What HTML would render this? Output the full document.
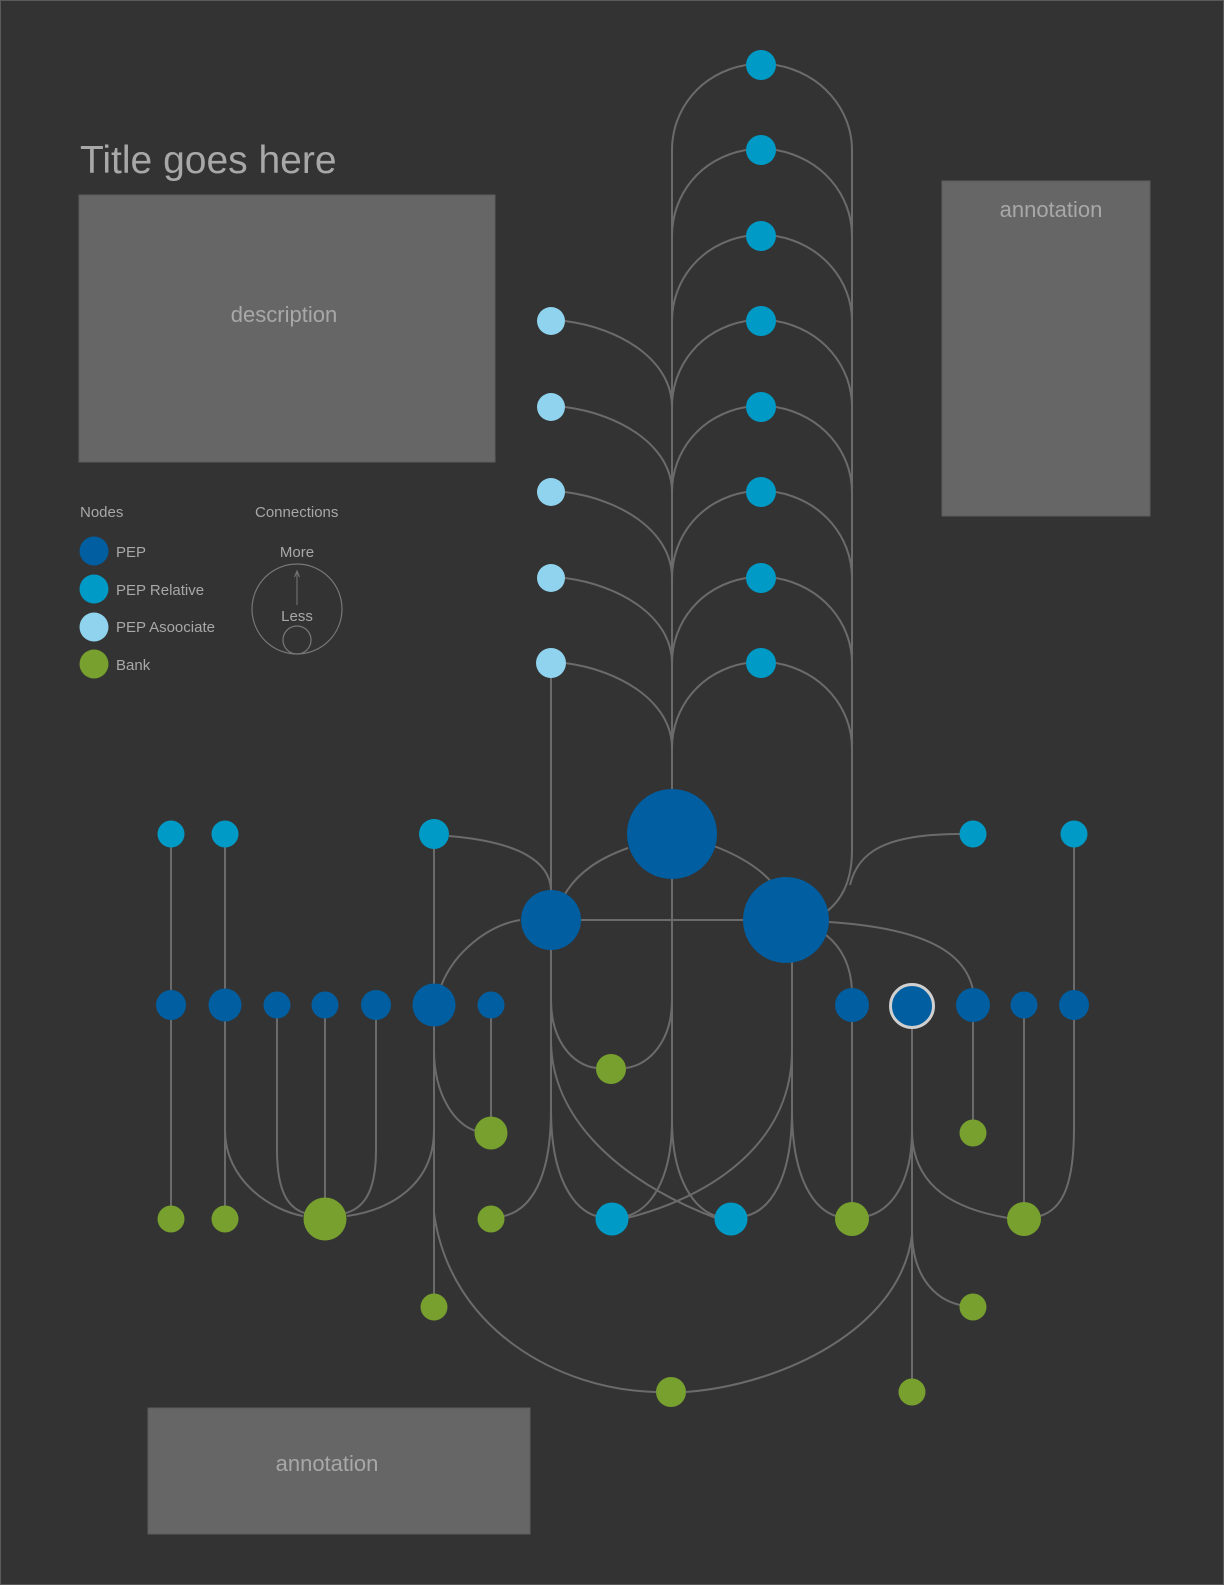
<!DOCTYPE html>
<html><head><meta charset="utf-8"><style>
html,body{margin:0;padding:0;background:#333;}
svg{display:block;}
text{font-family:"Liberation Sans","DejaVu Sans",sans-serif;fill:#a8a8a8;}
</style></head><body>
<svg width="1224" height="1585" viewBox="0 0 1224 1585" xmlns="http://www.w3.org/2000/svg">
<rect x="0.5" y="0.5" width="1223" height="1584" fill="#333" stroke="#5a5a5a" stroke-width="1"/>
<text x="80" y="173" font-size="39" style="font-weight:300">Title goes here</text>
<rect x="79" y="195" width="416" height="267" fill="#666" stroke="#5c5c5c"/>
<text x="284" y="322" font-size="22" text-anchor="middle">description</text>
<rect x="942" y="181" width="208" height="335" fill="#666" stroke="#5c5c5c"/>
<text x="1051" y="217" font-size="22" text-anchor="middle">annotation</text>
<rect x="148" y="1408" width="382" height="126" fill="#666" stroke="#5c5c5c"/>
<text x="327" y="1471" font-size="22" text-anchor="middle">annotation</text>

<!-- legend -->
<text x="80" y="517" font-size="15">Nodes</text>
<text x="255" y="517" font-size="15">Connections</text>
<circle cx="94" cy="551" r="14.5" fill="#005ea1"/>
<circle cx="94" cy="589" r="14.5" fill="#009ac6"/>
<circle cx="94" cy="627" r="14.5" fill="#8fd3ee"/>
<circle cx="94" cy="664" r="14.5" fill="#77a02e"/>
<text x="116" y="557" font-size="15">PEP</text>
<text x="116" y="595" font-size="15">PEP Relative</text>
<text x="116" y="632" font-size="15">PEP Asoociate</text>
<text x="116" y="670" font-size="15">Bank</text>
<text x="297" y="557" font-size="15" text-anchor="middle">More</text>
<circle cx="297" cy="609" r="45" fill="none" stroke="#777" stroke-width="1.2"/>
<line x1="297" y1="573" x2="297" y2="605" stroke="#777" stroke-width="1"/>
<path d="M294.5,577 L297,571 L299.5,577" fill="none" stroke="#777" stroke-width="1"/>
<text x="297" y="621" font-size="15" text-anchor="middle">Less</text>
<circle cx="297" cy="640" r="14" fill="none" stroke="#777" stroke-width="1.2"/>

<g fill="none" stroke="#6b6b6b" stroke-width="2">
<!-- trunks -->
<line x1="672" y1="148" x2="672" y2="1140"/>
<line x1="852" y1="148" x2="852" y2="852"/>
<path d="M852,850 C852,880 842,900 826,912"/>
<path d="M960,834 C885,834 858,852 850,885"/>
<!-- top arcs -->
<path d="M746,65 C700,73 672,110 672,150 M776,65 C822,73 852,110 852,150"/>
<path d="M746,150 C700,158 672,195 672,236 M776,150 C822,158 852,195 852,236"/>
<path d="M746,236 C700,244 672,281 672,321 M776,236 C822,244 852,281 852,321"/>
<path d="M746,321 C700,329 672,366 672,407 M776,321 C822,329 852,366 852,407"/>
<path d="M746,407 C700,415 672,452 672,492 M776,407 C822,415 852,452 852,492"/>
<path d="M746,492 C700,500 672,537 672,578 M776,492 C822,500 852,537 852,578"/>
<path d="M746,578 C700,586 672,623 672,663 M776,578 C822,586 852,623 852,663"/>
<path d="M746,663 C700,671 672,708 672,748 M776,663 C822,671 852,708 852,748"/>
<!-- associates -->
<path d="M565,321 C620,328 672,360 672,407"/>
<path d="M565,407 C620,414 672,446 672,492"/>
<path d="M565,492 C620,499 672,531 672,578"/>
<path d="M565,578 C620,585 672,617 672,663"/>
<path d="M565,663 C620,670 672,702 672,748"/>
<line x1="551" y1="663" x2="551" y2="1120"/>
<!-- center -->
<path d="M449,836 C520,842 550,862 551,890"/>
<path d="M628,848 C600,858 578,872 565,894"/>
<path d="M714,846 C740,856 760,868 773,884"/>
<line x1="560" y1="920" x2="760" y2="920"/>
<path d="M672,1000 C672,1040 650,1065 626,1068"/>
<path d="M672,1120 C672,1180 650,1210 627,1216"/>
<path d="M672,1120 C672,1180 695,1210 716,1216"/>
<path d="M551,1000 C551,1040 572,1065 596,1068"/>
<path d="M551,1110 C551,1180 530,1210 504,1216"/>
<path d="M551,1110 C551,1180 575,1210 596,1216"/>
<path d="M551,1040 C551,1130 640,1190 716,1218"/>
<line x1="792" y1="960" x2="792" y2="1120"/>
<path d="M792,1050 C792,1150 700,1200 627,1218"/>
<path d="M792,1110 C792,1180 770,1210 746,1216"/>
<path d="M792,1110 C792,1180 815,1210 836,1216"/>
<path d="M826,935 C845,950 851,970 852,990"/>
<path d="M829,922 C920,928 965,950 973,990"/>
<line x1="852" y1="1005" x2="852" y2="1219"/>
<line x1="912" y1="1006" x2="912" y2="1392"/>
<path d="M912,1130 C912,1185 890,1210 868,1216"/>
<path d="M912,1130 C912,1190 960,1210 1008,1218"/>
<path d="M912,1230 C912,1280 938,1300 960,1305"/>
<path d="M912,1235 C900,1330 780,1385 686,1392"/>
<line x1="973" y1="1005" x2="973" y2="1133"/>
<line x1="1024" y1="1005" x2="1024" y2="1219"/>
<line x1="1074" y1="834" x2="1074" y2="1130"/>
<path d="M1074,1128 C1074,1190 1060,1210 1040,1216"/>
<!-- left -->
<line x1="171" y1="834" x2="171" y2="1219"/>
<line x1="225" y1="834" x2="225" y2="1219"/>
<path d="M225,1130 C225,1180 270,1210 303,1216"/>
<path d="M277,1005 L277,1150 C277,1195 290,1210 308,1214"/>
<line x1="325" y1="1005" x2="325" y2="1219"/>
<path d="M376,1005 L376,1150 C376,1195 362,1210 342,1214"/>
<line x1="434" y1="834" x2="434" y2="1307"/>
<path d="M434,1130 C434,1185 390,1210 347,1216"/>
<path d="M434,1050 C434,1095 455,1125 476,1131"/>
<path d="M434,1213 C450,1330 560,1390 656,1392"/>
<path d="M441,986 C455,950 490,925 520,920"/>
<line x1="491" y1="1005" x2="491" y2="1133"/>
</g>

<!-- nodes -->
<g fill="#009ac6">
<circle cx="761" cy="65" r="15"/><circle cx="761" cy="150" r="15"/><circle cx="761" cy="236" r="15"/><circle cx="761" cy="321" r="15"/>
<circle cx="761" cy="407" r="15"/><circle cx="761" cy="492" r="15"/><circle cx="761" cy="578" r="15"/><circle cx="761" cy="663" r="15"/>
<circle cx="171" cy="834" r="13.5"/><circle cx="225" cy="834" r="13.5"/><circle cx="434" cy="834" r="15"/>
<circle cx="973" cy="834" r="13.5"/><circle cx="1074" cy="834" r="13.5"/>
<circle cx="612" cy="1219" r="16.5"/><circle cx="731" cy="1219" r="16.5"/>
</g>
<g fill="#8fd3ee">
<circle cx="551" cy="321" r="14"/><circle cx="551" cy="407" r="14"/><circle cx="551" cy="492" r="14"/><circle cx="551" cy="578" r="14"/><circle cx="551" cy="663" r="15"/>
</g>
<g fill="#005ea1">
<circle cx="672" cy="834" r="45"/><circle cx="551" cy="920" r="30"/><circle cx="786" cy="920" r="43"/>
<circle cx="171" cy="1005" r="15"/><circle cx="225" cy="1005" r="16.5"/><circle cx="277" cy="1005" r="13.5"/><circle cx="325" cy="1005" r="13.5"/>
<circle cx="376" cy="1005" r="15"/><circle cx="434" cy="1005" r="21.5"/><circle cx="491" cy="1005" r="13.5"/>
<circle cx="852" cy="1005" r="17"/><circle cx="973" cy="1005" r="17"/><circle cx="1024" cy="1005" r="13.5"/><circle cx="1074" cy="1005" r="15"/>
</g>
<circle cx="912" cy="1006" r="21.5" fill="#005ea1" stroke="#d0d0d0" stroke-width="3"/>
<g fill="#77a02e">
<circle cx="611" cy="1069" r="15"/><circle cx="491" cy="1133" r="16.5"/><circle cx="973" cy="1133" r="13.5"/>
<circle cx="171" cy="1219" r="13.5"/><circle cx="225" cy="1219" r="13.5"/><circle cx="325" cy="1219" r="21.5"/><circle cx="491" cy="1219" r="13.5"/>
<circle cx="852" cy="1219" r="17"/><circle cx="1024" cy="1219" r="17"/>
<circle cx="434" cy="1307" r="13.5"/><circle cx="973" cy="1307" r="13.5"/>
<circle cx="671" cy="1392" r="15"/><circle cx="912" cy="1392" r="13.5"/>
</g>
</svg>
</body></html>
